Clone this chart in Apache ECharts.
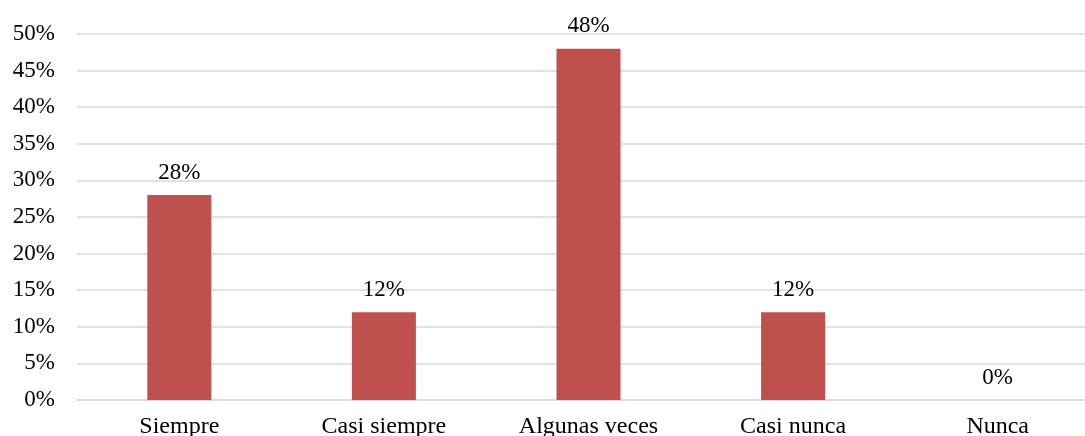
<!DOCTYPE html>
<html><head><meta charset="utf-8">
<script src="https://cdn.jsdelivr.net/npm/echarts@6/dist/echarts.min.js"></script>
<style>html,body{margin:0;padding:0;background:#fff}#c{width:1085px;height:436px}</style>
</head><body><div id="c"></div>
<script>
const categories = ['Siempre', 'Casi siempre', 'Algunas veces', 'Casi nunca', 'Nunca'];
const values = [28, 12, 48, 12, 0];
const font = '"Liberation Serif", "Times New Roman", serif';
const chart = echarts.init(document.getElementById('c'));
chart.setOption({
  animation: false,
  grid: {left: 77, width: 1023, top: 34, height: 366, outerBoundsMode: 'none', containLabel: false},
  xAxis: {
    type: 'category', data: categories,
    axisLine: {lineStyle: {color: '#d9d9d9', width: 1.5}},
    axisTick: {show: false},
    axisLabel: {color: '#000', fontFamily: font, fontSize: 24, margin: 15}
  },
  yAxis: {
    type: 'value', min: 0, max: 50, interval: 5,
    axisLabel: {formatter: '{value}%', color: '#000', fontFamily: font, fontSize: 23, margin: 22},
    splitLine: {lineStyle: {color: '#d9d9d9', width: 1.5}},
    axisLine: {show: false}, axisTick: {show: false}
  },
  series: [{
    type: 'bar', data: values, barWidth: 64,
    itemStyle: {color: '#C0504D'},
    label: {show: true, position: 'top', formatter: '{c}%', color: '#000', fontFamily: font, fontSize: 23, distance: 11}
  }]
});
</script></body></html>
